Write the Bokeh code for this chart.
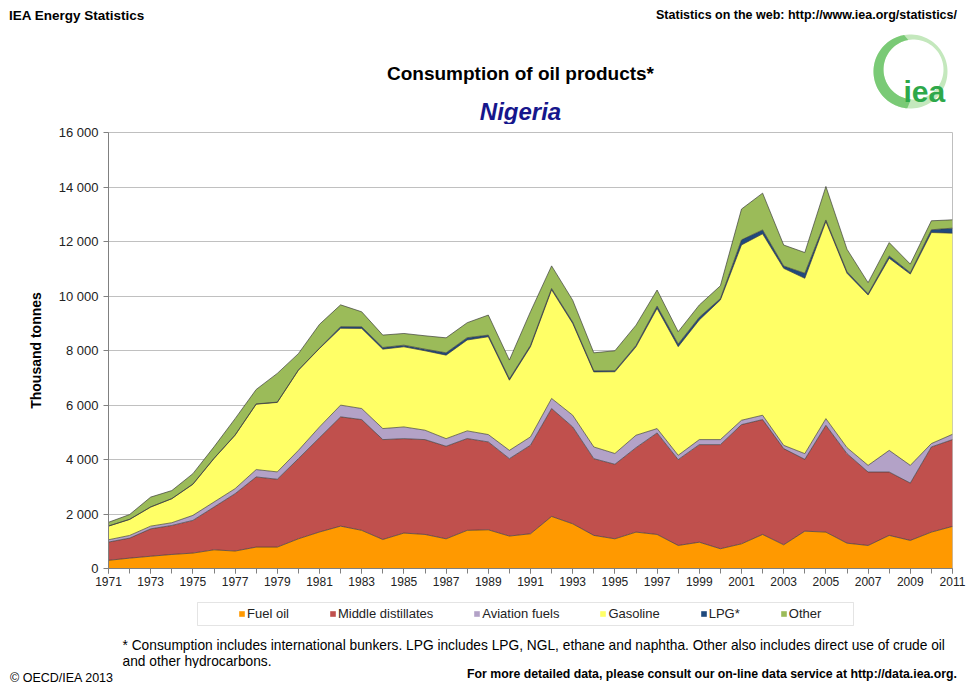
import numpy as np
from bokeh.plotting import figure
from bokeh.layouts import column
from bokeh.models import (Range1d, FixedTicker, Legend, LegendItem, Label, Div,
                          BoxAnnotation, PolyAnnotation, ColumnDataSource)
from bokeh.transform import stack
from bokeh.embed import file_html
from bokeh.resources import INLINE

# ---------------- data (thousand tonnes) ----------------
years = list(range(1971, 2012))
fuel_oil = [300, 380, 450, 515, 565, 685, 640, 785, 785, 1090,
            1340, 1555, 1400, 1065, 1300, 1250, 1090, 1400, 1420, 1190,
            1275, 1910, 1640, 1215, 1090, 1335, 1250, 845, 965, 725,
            905, 1250, 870, 1370, 1335, 930, 845, 1215, 1030, 1335, 1545]
middle_distillates = [670, 735, 1005, 1065, 1200, 1570, 2105, 2575, 2490, 2940,
                      3460, 4010, 4065, 3665, 3465, 3480, 3395, 3370, 3225, 2840,
                      3250, 3960, 3555, 2815, 2735, 3100, 3725, 3150, 3580, 3820,
                      4375, 4215, 3530, 2635, 3920, 3285, 2695, 2325, 2105, 3125, 3185]
aviation_fuels = [85, 98, 100, 100, 185, 185, 185, 270, 270, 305,
                  395, 430, 405, 405, 430, 345, 280, 280, 270, 305,
                  305, 370, 430, 430, 395, 455, 160, 160, 185, 185,
                  160, 160, 120, 210, 245, 220, 245, 795, 650, 125, 195]
gasoline = [500, 587, 700, 880, 1140, 1595, 1960, 2400, 2550, 2940,
            2880, 2820, 2940, 2915, 2940, 2915, 3065, 3335, 3590, 2575,
            3310, 3985, 3370, 2755, 3000, 3245, 4410, 3985, 4390, 5125,
            6435, 6655, 6495, 6435, 7230, 6400, 6250, 7050, 7020, 7745, 7380]
lpg = [5, 5, 5, 5, 10, 10, 10, 10, 10, 10,
       15, 60, 60, 60, 60, 60, 85, 85, 60, 50,
       50, 50, 50, 40, 40, 50, 85, 100, 100, 50,
       185, 145, 85, 185, 60, 55, 45, 85, 50, 100, 185]
other = [135, 175, 360, 295, 380, 420, 600, 530, 1055, 600,
         870, 800, 550, 455, 430, 490, 550, 550, 735, 690,
         1235, 830, 800, 660, 730, 745, 590, 450, 450, 470,
         1130, 1350, 770, 760, 1230, 825, 410, 490, 315, 330, 305]

series_names = ["Fuel oil", "Middle distillates", "Aviation fuels",
                "Gasoline", "LPG*", "Other"]
series_keys = ["fuel", "mid", "avi", "gas", "lpg", "oth"]
colors = ["#FF9900", "#C0504D", "#B3A2C7", "#FFFF66", "#1F497D", "#9BBB59"]

x_ticks = list(range(1971, 2012, 2))
y_ticks = [0, 2000, 4000, 6000, 8000, 10000, 12000, 14000, 16000]
y_tick_labels = ["0", "2 000", "4 000", "6 000", "8 000", "10 000",
                 "12 000", "14 000", "16 000"]

FONT = "Liberation Sans"
W = 969
L, R_ = 108, 952               # frame left / right (page px)
TOP_DIV_H, HEAD_H, MAIN_H, FOOT_H, BOT_DIV_H = 30, 94, 470, 74, 16
HEAD_TOP = TOP_DIV_H
MAIN_TOP = HEAD_TOP + HEAD_H
FOOT_TOP = MAIN_TOP + MAIN_H
BOT_TOP = FOOT_TOP + FOOT_H


def text_div(height, spans):
    inner = ""
    for s in spans:
        side = "left:%dpx;" % s["left"] if "left" in s else "right:%dpx;" % s["right"]
        inner += ('<span style="position:absolute;%stop:%dpx;font-size:%s;'
                  'font-weight:%s;line-height:1;white-space:nowrap;color:#000;">%s</span>'
                  % (side, s["top"], s["size"], s.get("weight", "normal"), s["text"]))
    html = ('<div style="position:relative;width:%dpx;height:%dpx;margin:0;padding:0;'
            'overflow:visible;font-family:\'Liberation Sans\',Arial,sans-serif;">%s</div>'
            % (W, height, inner))
    return Div(text=html, width=W, height=height, margin=0)


def blank(height, top):
    f = figure(width=W, height=height, output_backend="svg", toolbar_location=None,
               title=None, x_range=Range1d(L, R_), y_range=Range1d(top + height, top),
               x_axis_location=None, y_axis_location=None, min_border=0,
               min_border_left=L, min_border_right=W - R_)
    f.grid.visible = False
    f.outline_line_color = None
    f.background_fill_color = "white"
    f.border_fill_color = "white"
    return f


def lab(f, x, y, text, size, style="normal", align="left", color="#000000",
        baseline="middle", font=FONT):
    f.add_layout(Label(x=x, y=y, text=text, text_font=font, text_font_size=size,
                       text_font_style=style, text_align=align,
                       text_baseline=baseline, text_color=color))


# ---------------- top line ----------------
top_div = text_div(TOP_DIV_H, [
    dict(left=9, top=9, size="13.5px", weight="bold", text="IEA Energy Statistics"),
    dict(right=W - 957, top=9, size="12.5px", weight="bold",
         text="Statistics on the web: http://www.iea.org/statistics/"),
])

# ---------------- header (title + logo) ----------------
head = blank(HEAD_H, HEAD_TOP)
lab(head, 520, 73, "Consumption of oil products*", "19px", "bold", "center")
lab(head, 520, 111, "Nigeria", "24px", "bold italic", "center", "#16168C")

cx, cy, R = 910, 71, 37
cx2, cy2, r = 913, 69, 30
t = np.linspace(0, 2 * np.pi, 91)
ox, oy = cx + R * np.cos(t), cy + R * np.sin(t)
ix, iy = cx2 + r * np.cos(t), cy2 + r * np.sin(t)
head.add_layout(PolyAnnotation(xs=list(np.concatenate([ox, ix[::-1]])),
                               ys=list(np.concatenate([oy, iy[::-1]])),
                               fill_color="#c4e8bd", fill_alpha=1.0, line_alpha=0))
t2 = np.linspace(np.radians(100), np.radians(265), 60)
ox2, oy2 = cx + R * np.cos(t2), cy - R * np.sin(t2)
ix2, iy2 = cx2 + r * np.cos(t2), cy2 - r * np.sin(t2)
head.add_layout(PolyAnnotation(xs=list(np.concatenate([ox2, ix2[::-1]])),
                               ys=list(np.concatenate([oy2, iy2[::-1]])),
                               fill_color="#72c66e", fill_alpha=0.9, line_alpha=0))
lab(head, 903, 91, "iea", "30px", "bold", "left", "#2ea84a", "alphabetic")

# ---------------- main chart ----------------
src = ColumnDataSource(dict(year=years, fuel=fuel_oil, mid=middle_distillates,
                            avi=aviation_fuels, gas=gasoline, lpg=lpg, oth=other))

p = figure(width=W, height=MAIN_H, output_backend="svg", toolbar_location=None,
           title=None, x_range=Range1d(1971, 2011), y_range=Range1d(0, 16000),
           min_border_left=L, min_border_right=W - R_, min_border_top=8,
           min_border_bottom=26)
p.background_fill_color = "white"
p.border_fill_color = "white"
p.outline_line_color = "#bfbfbf"

areas = p.varea_stack(stackers=series_keys, x="year", color=colors, source=src)
for i in range(len(series_keys)):
    p.line(x="year", y=stack(*series_keys[:i + 1]), source=src,
           line_color="#3a3a3a", line_width=0.8, line_alpha=0.85)

p.xaxis.ticker = FixedTicker(ticks=x_ticks, minor_ticks=years)
p.yaxis.ticker = FixedTicker(ticks=y_ticks)
p.yaxis.major_label_overrides = dict(zip(y_ticks, y_tick_labels))
for ax in (p.xaxis, p.yaxis):
    ax.axis_line_color = "#808080"
    ax.major_tick_line_color = "#808080"
    ax.minor_tick_line_color = "#808080"
    ax.major_tick_in = 0
    ax.major_tick_out = 5
    ax.minor_tick_in = 0
    ax.minor_tick_out = 5
    ax.major_label_text_font = FONT
    ax.major_label_text_font_size = "12px"
    ax.major_label_text_color = "#222222"
p.yaxis.major_label_text_font_size = "13px"
p.yaxis.minor_tick_line_color = None
p.xaxis.major_label_standoff = 3
p.yaxis.major_label_standoff = 5
p.yaxis.axis_label = "Thousand tonnes"
p.yaxis.axis_label_text_font = FONT
p.yaxis.axis_label_text_font_size = "14px"
p.yaxis.axis_label_text_font_style = "bold"
p.yaxis.axis_label_text_color = "#000000"
p.yaxis.axis_label_standoff = 12
p.xgrid.visible = False
p.ygrid.grid_line_color = "#c0c0c0"

# ---------------- footer: legend + note ----------------
foot = blank(FOOT_H, FOOT_TOP)
foot.add_layout(BoxAnnotation(left=197, right=853, top=602, bottom=625,
                              fill_color="white", fill_alpha=1.0,
                              line_color="#a6a6a6", line_width=1))
proxies = [foot.varea(x=[0], y1=[0], y2=[0], fill_color=c) for c in colors]
legend = Legend(items=[LegendItem(label=n, renderers=[r]) for n, r in zip(series_names, proxies)],
                orientation="horizontal", location=(238 - L, BOT_TOP - 621),
                glyph_width=7, glyph_height=7, label_standoff=2, spacing=40,
                padding=0, margin=0, label_height=14,
                label_text_font=FONT, label_text_font_size="13px",
                label_text_color="#222222",
                border_line_alpha=0, background_fill_alpha=0)
foot.add_layout(legend)

lab(foot, 122, 645, "* Consumption includes international bunkers. LPG includes LPG, NGL, "
                    "ethane and naphtha. Other also includes direct use of crude oil", "13.75px")
lab(foot, 122, 661, "and other hydrocarbons.", "13.75px")

# ---------------- bottom line ----------------
bot_div = text_div(BOT_DIV_H, [
    dict(left=10, top=4, size="12.5px", text="\u00a9 OECD/IEA 2013"),
    dict(right=W - 957, top=0, size="12.3px", weight="bold",
         text="For more detailed data, please consult our on-line data service at http://data.iea.org."),
])

layout = column(top_div, head, p, foot, bot_div, spacing=0)
open("out.html", "w").write(file_html(layout, INLINE))
